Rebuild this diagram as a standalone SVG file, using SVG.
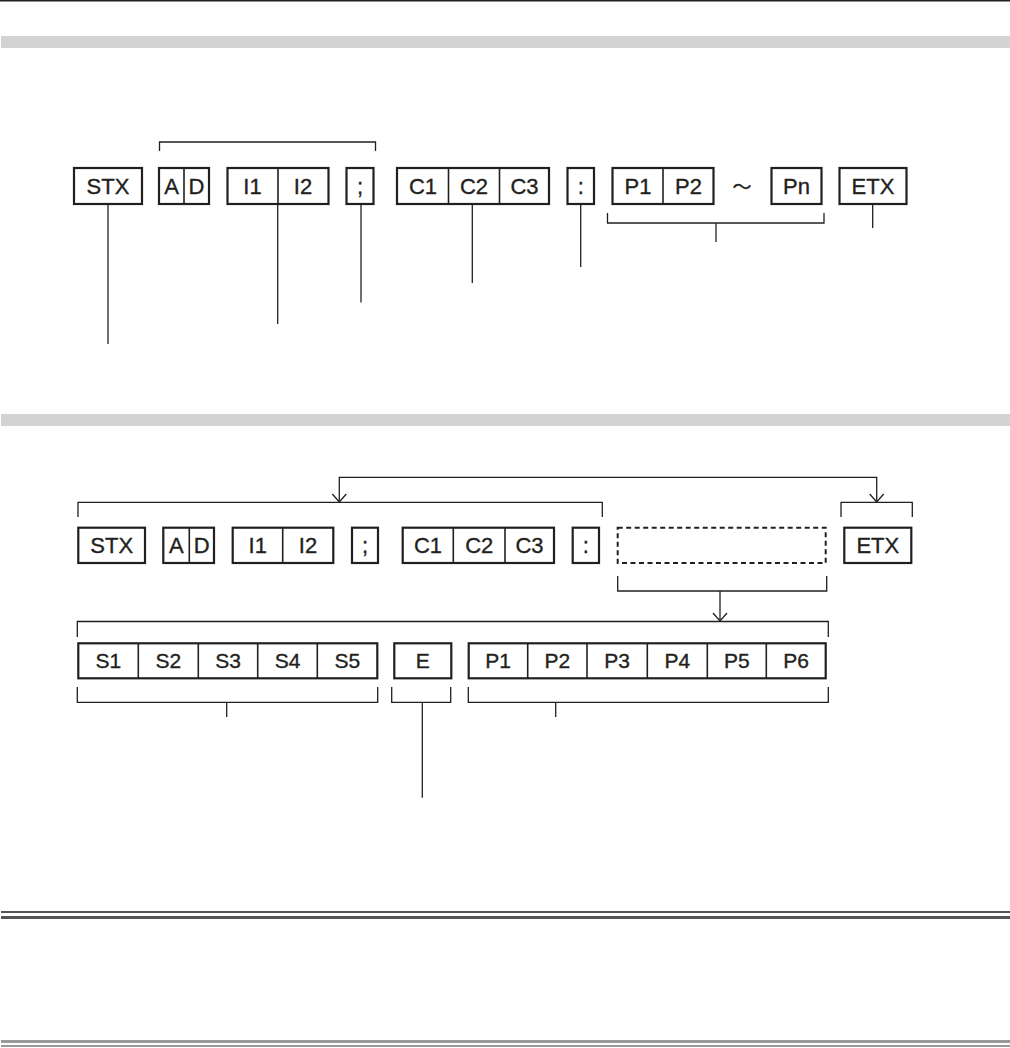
<svg xmlns="http://www.w3.org/2000/svg" width="1010" height="1048" viewBox="0 0 1010 1048">
<defs>
<style>
.bx{fill:none;stroke:#231f20;stroke-width:2.2}
.dv{stroke:#231f20;stroke-width:1.6}
.ds{fill:none;stroke:#231f20;stroke-width:2;stroke-dasharray:5 3.5}
.ln{fill:none;stroke:#231f20;stroke-width:1.3}
.t{font-family:"Liberation Sans","Noto Sans CJK JP",sans-serif;font-size:22px;fill:#231f20;stroke:#231f20;stroke-width:0.35;text-anchor:middle}
.t3{font-size:21px}
.gb{fill:#d3d3d3}
</style>
<marker id="ah" markerUnits="userSpaceOnUse" markerWidth="20" markerHeight="20" refX="0" refY="0" orient="auto-start-reverse" overflow="visible">
<path d="M-8,-7 L0,0 L-8,7" fill="none" stroke="#231f20" stroke-width="1.3"/>
</marker>
</defs>
<rect x="0" y="0" width="1010" height="1.5" fill="#231f20"/>
<rect class="gb" x="1" y="36" width="1009" height="12"/>
<rect class="gb" x="1" y="414" width="1009" height="12"/>
<rect x="1" y="911" width="1009" height="2" fill="#555"/>
<rect x="1" y="916" width="1009" height="3" fill="#555"/>
<rect x="1" y="1040" width="1009" height="3" fill="#999"/>
<rect x="1" y="1045" width="1009" height="2" fill="#999"/>

<!-- Row 1 -->
<g id="r1-stx"><rect class="bx" x="74" y="168" width="68" height="36"/><text class="t" x="108" y="194">STX</text></g>
<g id="r1-ad"><rect class="bx" x="159" y="168" width="50" height="36"/><line class="dv" x1="184" y1="168" x2="184" y2="204"/><text class="t" x="171.5" y="194">A</text><text class="t" x="196.5" y="194">D</text></g>
<g id="r1-i"><rect class="bx" x="227.5" y="168" width="101" height="36"/><line class="dv" x1="278" y1="168" x2="278" y2="204"/><text class="t" x="252.5" y="194">I1</text><text class="t" x="303" y="194">I2</text></g>
<g id="r1-semi"><rect class="bx" x="346.5" y="168" width="27" height="36"/><text class="t" x="360" y="194">;</text></g>
<g id="r1-c"><rect class="bx" x="397" y="168" width="152" height="36"/><line class="dv" x1="448.5" y1="168" x2="448.5" y2="204"/><line class="dv" x1="499.5" y1="168" x2="499.5" y2="204"/><text class="t" x="423" y="194">C1</text><text class="t" x="474" y="194">C2</text><text class="t" x="524.5" y="194">C3</text></g>
<g id="r1-colon"><rect class="bx" x="567.5" y="168" width="26.5" height="36"/><text class="t" x="580.7" y="194">:</text></g>
<g id="r1-p"><rect class="bx" x="612.5" y="168" width="101" height="36"/><line class="dv" x1="663" y1="168" x2="663" y2="204"/><text class="t" x="638" y="194">P1</text><text class="t" x="688.5" y="194">P2</text></g>
<g id="r1-tilde"><text class="t" x="742" y="194" style="font-size:19px">～</text></g>
<g id="r1-pn"><rect class="bx" x="771.5" y="168" width="50" height="36"/><text class="t" x="796.5" y="194">Pn</text></g>
<g id="r1-etx"><rect class="bx" x="839.5" y="168" width="67" height="36"/><text class="t" x="873" y="194">ETX</text></g>

<!-- Row 2 -->
<g id="r2-stx"><rect class="bx" x="78.3" y="527.7" width="66.7" height="35.3"/><text class="t" x="111.7" y="553.3">STX</text></g>
<g id="r2-ad"><rect class="bx" x="163.3" y="527.7" width="50.7" height="35.3"/><line class="dv" x1="189.3" y1="527.7" x2="189.3" y2="563"/><text class="t" x="176.3" y="553.3">A</text><text class="t" x="201.7" y="553.3">D</text></g>
<g id="r2-i"><rect class="bx" x="232.7" y="527.7" width="100.6" height="35.3"/><line class="dv" x1="282.7" y1="527.7" x2="282.7" y2="563"/><text class="t" x="257.7" y="553.3">I1</text><text class="t" x="308" y="553.3">I2</text></g>
<g id="r2-semi"><rect class="bx" x="352" y="527.7" width="26" height="35.3"/><text class="t" x="365" y="553.3">;</text></g>
<g id="r2-c"><rect class="bx" x="402.7" y="527.7" width="151.3" height="35.3"/><line class="dv" x1="453.3" y1="527.7" x2="453.3" y2="563"/><line class="dv" x1="505" y1="527.7" x2="505" y2="563"/><text class="t" x="428" y="553.3">C1</text><text class="t" x="479.2" y="553.3">C2</text><text class="t" x="529.5" y="553.3">C3</text></g>
<g id="r2-colon"><rect class="bx" x="572.7" y="527.7" width="26.3" height="35.3"/><text class="t" x="585.8" y="553.3">:</text></g>
<g id="r2-dashed"><rect class="ds" x="617.7" y="527.7" width="208" height="35.3"/></g>
<g id="r2-etx"><rect class="bx" x="844.3" y="527.7" width="67" height="35.3"/><text class="t" x="877.8" y="553.3">ETX</text></g>

<!-- Row 3 -->
<g id="r3-s"><rect class="bx" x="78.3" y="643.3" width="299" height="35"/><line class="dv" x1="138.3" y1="643.3" x2="138.3" y2="678.3"/><line class="dv" x1="198.3" y1="643.3" x2="198.3" y2="678.3"/><line class="dv" x1="257.7" y1="643.3" x2="257.7" y2="678.3"/><line class="dv" x1="317.3" y1="643.3" x2="317.3" y2="678.3"/><text class="t t3" x="108.3" y="668.3">S1</text><text class="t t3" x="168.3" y="668.3">S2</text><text class="t t3" x="228" y="668.3">S3</text><text class="t t3" x="287.5" y="668.3">S4</text><text class="t t3" x="347.3" y="668.3">S5</text></g>
<g id="r3-e"><rect class="bx" x="394.3" y="643.3" width="57" height="35"/><text class="t t3" x="422.8" y="668.3">E</text></g>
<g id="r3-p"><rect class="bx" x="468.7" y="643.3" width="357" height="35"/><line class="dv" x1="527.7" y1="643.3" x2="527.7" y2="678.3"/><line class="dv" x1="587" y1="643.3" x2="587" y2="678.3"/><line class="dv" x1="647.3" y1="643.3" x2="647.3" y2="678.3"/><line class="dv" x1="707.3" y1="643.3" x2="707.3" y2="678.3"/><line class="dv" x1="766.3" y1="643.3" x2="766.3" y2="678.3"/><text class="t t3" x="498.2" y="668.3">P1</text><text class="t t3" x="557.3" y="668.3">P2</text><text class="t t3" x="617.2" y="668.3">P3</text><text class="t t3" x="677.3" y="668.3">P4</text><text class="t t3" x="736.8" y="668.3">P5</text><text class="t t3" x="796" y="668.3">P6</text></g>

<!-- Connectors -->
<g id="connectors">
<path class="ln" d="M159.5,151 V142 H375.5 V151"/>
<path class="ln" d="M607.5,213 V223 H824 V213"/>
<path class="ln" d="M716,223 V242"/>
<path class="ln" d="M108,204 V344"/>
<path class="ln" d="M277.7,204 V324"/>
<path class="ln" d="M361,204 V302.5"/>
<path class="ln" d="M472.3,204 V283"/>
<path class="ln" d="M580.7,204 V267"/>
<path class="ln" d="M872.7,204 V228"/>

<path class="ln" d="M78,517 V502.3 H602.3 V517"/>
<path class="ln" d="M841,517 V502.3 H912.3 V517"/>
<path class="ln" d="M339.3,502 V477.3 H876.7 V502" marker-start="url(#ah)" marker-end="url(#ah)"/>
<path class="ln" d="M617.7,576 V591 H826.7 V576"/>
<path class="ln" d="M720,591 V621" marker-end="url(#ah)"/>
<path class="ln" d="M77.3,637 V621.5 H828.3 V637"/>

<path class="ln" d="M77.3,687 V702.3 H377.7 V687"/>
<path class="ln" d="M226.7,702.3 V717"/>
<path class="ln" d="M391.7,687 V702.3 H450.7 V687"/>
<path class="ln" d="M422.3,702.3 V797.7"/>
<path class="ln" d="M468.3,687 V702.3 H828.3 V687"/>
<path class="ln" d="M555.7,702.3 V717"/>
</g>
</svg>
